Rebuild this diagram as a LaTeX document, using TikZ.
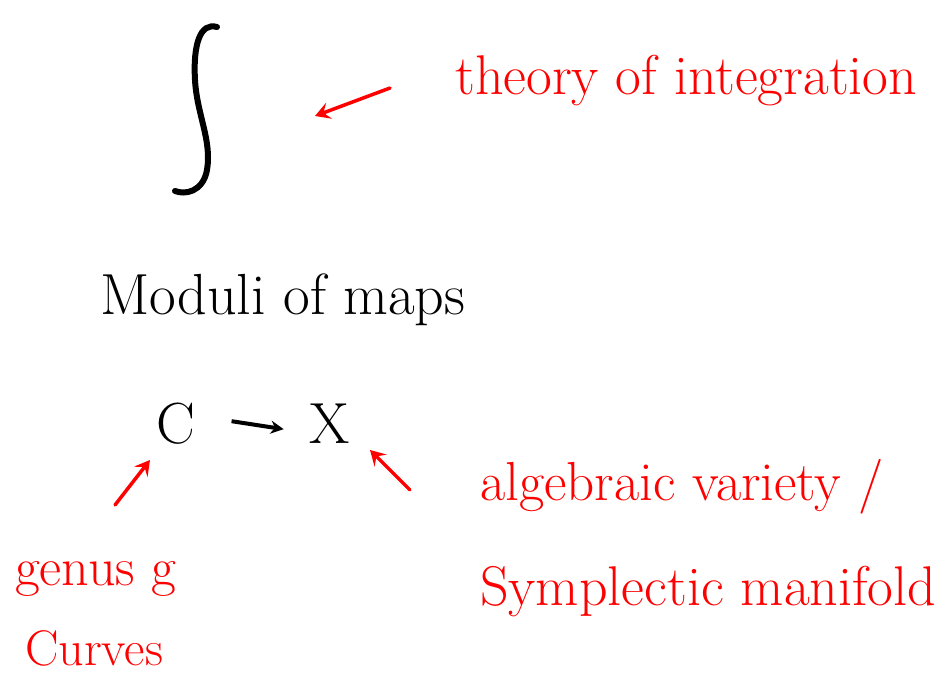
\documentclass[tikz,border=0pt]{standalone}
\usetikzlibrary{arrows.meta}
\begin{document}
\begin{tikzpicture}[x=1pt,y=-1pt,
    redtext/.style={text=red,inner sep=0pt},
    blacktext/.style={font=\fontsize{58}{66}\selectfont,inner sep=0pt},
    note/.style={red,line width=3.5pt,line cap=round,-{Stealth[length=15pt,width=17pt,inset=6pt]}}]
    \useasboundingbox (0,0) rectangle (943,679);
    % integral
    \draw [line width=6pt,line cap=round] (217,27) .. controls (200,22) and (193,45) .. (195,80)
        .. controls (197,115) and (212,140) .. (207,170)
        .. controls (203,192) and (185,195) .. (175,191);
    \node [redtext,font=\fontsize{56}{64}\selectfont,anchor=base west] (theory) at (455,95) {theory of integration};
    \coordinate (ta) at (390,88);
    \coordinate (th) at (315,116);
    \draw [note] (ta) -- (th);
    % moduli
    \node [blacktext,anchor=base west] (moduli) at (100,315) {Moduli of maps};
    \node [blacktext,anchor=base] (C) at (176,443) {C};
    \node [blacktext,anchor=base] (X) at (330,443) {X};
    \draw [-{Stealth[length=13pt,width=13pt]},line width=4pt] ([xshift=36pt,yshift=2pt]C.east) -- ([xshift=-26pt,yshift=-6pt]X.west);
    % curves
    \coordinate (ca) at (115,505);
    \coordinate (ch) at (150,460);
    \draw [note] (ca) -- (ch);
    \node [redtext,font=\fontsize{54}{62}\selectfont,anchor=base west] (genus) at (15,585) {genus g};
    \node [redtext,font=\fontsize{50}{58}\selectfont,anchor=base west] (curves) at (25,665) {Curves};
    % target
    \coordinate (xa) at (410,490);
    \coordinate (xh) at (370,450);
    \draw [note] (xa) -- (xh);
    \node [redtext,font=\fontsize{55}{63}\selectfont,anchor=base west] (alg) at (480,500) {algebraic variety /};
    \node [redtext,font=\fontsize{56}{64}\selectfont,anchor=base west] (symp) at (480,605) {Symplectic manifold};
\end{tikzpicture}
\end{document}
